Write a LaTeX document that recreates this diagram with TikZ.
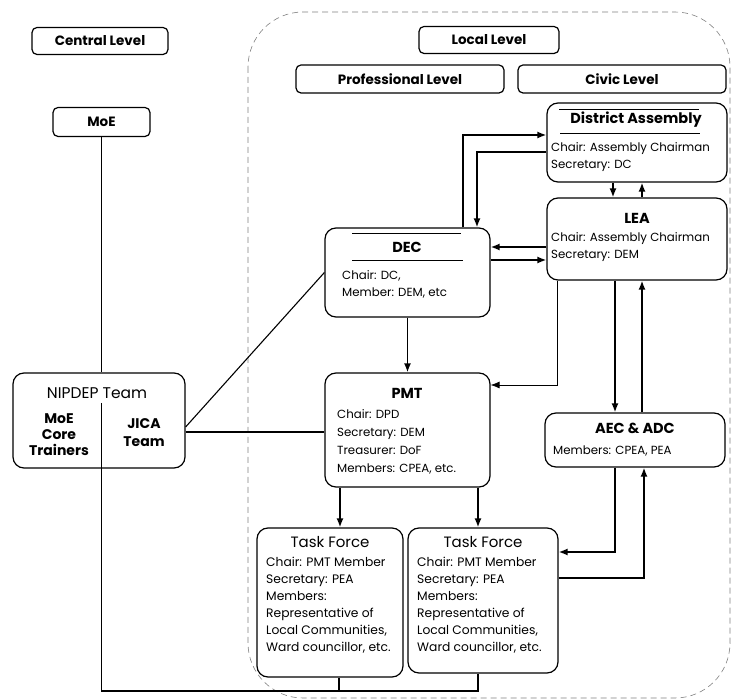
\documentclass[tikz,border=0pt]{standalone}
\usepackage{fontspec}
\setmainfont{Poppins}
\usetikzlibrary{arrows.meta, positioning}

\begin{document}
\begin{tikzpicture}[
        x=1pt, y=-1pt,
        box/.style={draw, line width=1.2pt, rounded corners=11pt, inner sep=0pt},
        levelbox/.style={draw, line width=1.2pt, rounded corners=5pt, inner sep=0pt, font=\fontsize{13.5}{15}\selectfont\bfseries},
        title/.style={inner sep=0pt, font=\fontsize{14.5}{16}\selectfont\bfseries},
        body/.style={inner sep=0pt, align=left, anchor=north west, font=\fontsize{11.8}{17}\selectfont},
        arrow/.style={-{Latex[length=9pt,width=7pt]}, line width=1.6pt},
        thinarrow/.style={-{Latex[length=9pt,width=7pt]}, line width=0.8pt},
        link/.style={line width=1.1pt}
    ]
        \useasboundingbox (0,0) rectangle (732,700);

        % Local level outline
        \draw[gray, line width=0.6pt, dash pattern=on 6pt off 4pt, rounded corners=55pt] (248,12) rectangle (730,698);

        % Level headers
        \node[levelbox, minimum width=136pt, minimum height=27pt] (central) at (100,41) {Central Level};
        \node[levelbox, minimum width=140pt, minimum height=27pt] (local) at (489,40) {Local Level};
        \node[levelbox, minimum width=208pt, minimum height=28pt] (prof) at (400,79) {Professional Level};
        \node[levelbox, minimum width=208pt, minimum height=28pt] (civic) at (622,79) {Civic Level};

        % Boxes
        \node[levelbox, minimum width=97pt, minimum height=29pt] (moe) at (101.5,122) {MoE};
        \node[box, minimum width=172pt, minimum height=95pt] (nipdep) at (99,420.5) {};
        \node[box, minimum width=165pt, minimum height=89pt] (dec) at (407.5,272.5) {};
        \node[box, minimum width=180pt, minimum height=79pt] (da) at (637,142.5) {};
        \node[box, minimum width=180pt, minimum height=82pt] (lea) at (637,239) {};
        \node[box, minimum width=165pt, minimum height=114pt] (pmt) at (407.5,430) {};
        \node[box, minimum width=180pt, minimum height=54pt] (aec) at (635,440) {};
        \node[box, minimum width=146pt, minimum height=149pt] (tf1) at (330,602.5) {};
        \node[box, minimum width=150pt, minimum height=145pt] (tf2) at (483,600.5) {};

        % Texts
        \node[inner sep=0pt, font=\fontsize{15.5}{17}\selectfont] (nipdeptitle) at (97,393) {NIPDEP Team};
        \node[inner sep=0pt, align=center, font=\fontsize{14}{16}\selectfont\bfseries] (moecore) at (59,435) {MoE\\Core\\Trainers};
        \node[inner sep=0pt, align=center, font=\fontsize{14}{18}\selectfont\bfseries] (jica) at (144,433) {JICA\\Team};

        \node[title] (dectitle) at (407,247) {DEC};
        \node[body] (decbody) at (342,270) {Chair: DC,\\Member: DEM, etc};
        \node[title] (datitle) at (636,120) {District Assembly};
        \node[body] (dabody) at (551,142) {Chair: Assembly Chairman\\Secretary: DC};
        \node[title] (leatitle) at (637,218) {LEA};
        \node[body] (leabody) at (551,232) {Chair: Assembly Chairman\\Secretary: DEM};
        \node[title] (pmttitle) at (407,393) {PMT};
        \node[body, font=\fontsize{11.8}{18}\selectfont] (pmtbody) at (337,409) {Chair: DPD\\Secretary: DEM\\Treasurer: DoF\\Members: CPEA, etc.};
        \node[title] (aectitle) at (635,428) {AEC \& ADC};
        \node[body] (aecbody) at (553,446) {Members: CPEA, PEA};
        \node[title, font=\fontsize{15}{16}\selectfont] (tf1title) at (330,542) {Task Force};
        \node[body, font=\fontsize{12.3}{17}\selectfont] (tf1body) at (266,557) {Chair: PMT Member\\Secretary: PEA\\Members:\\Representative of\\Local Communities,\\Ward councillor, etc.};
        \node[title, font=\fontsize{15}{16}\selectfont] (tf2title) at (483,542) {Task Force};
        \node[body, font=\fontsize{12.3}{17}\selectfont] (tf2body) at (417,557) {Chair: PMT Member\\Secretary: PEA\\Members:\\Representative of\\Local Communities,\\Ward councillor, etc.};

        % Title rules
        \draw[line width=0.8pt] (352,233) -- (461,233) (352,260) -- (463,260);
        \draw[line width=0.8pt] (559,109) -- (699,109) (560,133) -- (700,133);

        % Central links
        \coordinate (split) at (101.5,403);
        \coordinate (busend) at (478,691);
        \draw[link] (moe.south) -- (moe.south |- nipdep.north);
        \draw[link] (split) |- (busend) -- (busend |- tf2.south);
        \draw[link] ([xshift=9pt]tf1.south) -- ([xshift=9pt]tf1.south |- busend);
        \draw[link] ([yshift=-6.5pt]nipdep.east) -- (dec.west);
        \draw[link] ([yshift=-11.5pt]nipdep.east) -- ([yshift=-11.5pt]nipdep.east -| pmt.west);

        % Arrows
        \draw[arrow] ([xshift=55.5pt]dec.north) |- ([yshift=7.5pt]da.west);
        \draw[arrow] ([yshift=-9.5pt]da.west) -| ([xshift=69.5pt]dec.north);
        \draw[arrow] ([yshift=-8pt]lea.west) -- ([yshift=-8pt]lea.west -| dec.east);
        \draw[arrow] ([yshift=-21pt]lea.west -| dec.east) -- ([yshift=-21pt]lea.west);
        \draw[arrow] ([xshift=-24pt]da.south) -- ([xshift=-24pt]lea.north);
        \draw[arrow] ([xshift=5pt]lea.north) -- ([xshift=5pt]da.south);
        \draw[arrow] (dec) -- (pmt);
        \draw[thinarrow] ([xshift=-80pt]lea.south) |- ([yshift=45pt]pmt.east);
        \draw[arrow] ([xshift=-22pt]lea.south) -- ([xshift=-22pt]lea.south |- aec.north);
        \draw[arrow] ([xshift=5pt]lea.south |- aec.north) -- ([xshift=5pt]lea.south);
        \draw[arrow] ([xshift=-67.5pt]pmt.south) -- ([xshift=-67.5pt]pmt.south |- tf1.north);
        \draw[arrow] ([xshift=70.5pt]pmt.south) -- ([xshift=70.5pt]pmt.south |- tf2.north);
        \draw[arrow] ([xshift=-20pt]aec.south) |- ([yshift=48.5pt]tf2.east);
        \draw[arrow] ([yshift=22.5pt]tf2.east) -| ([xshift=9pt]aec.south);
    \end{tikzpicture}
\end{document}
